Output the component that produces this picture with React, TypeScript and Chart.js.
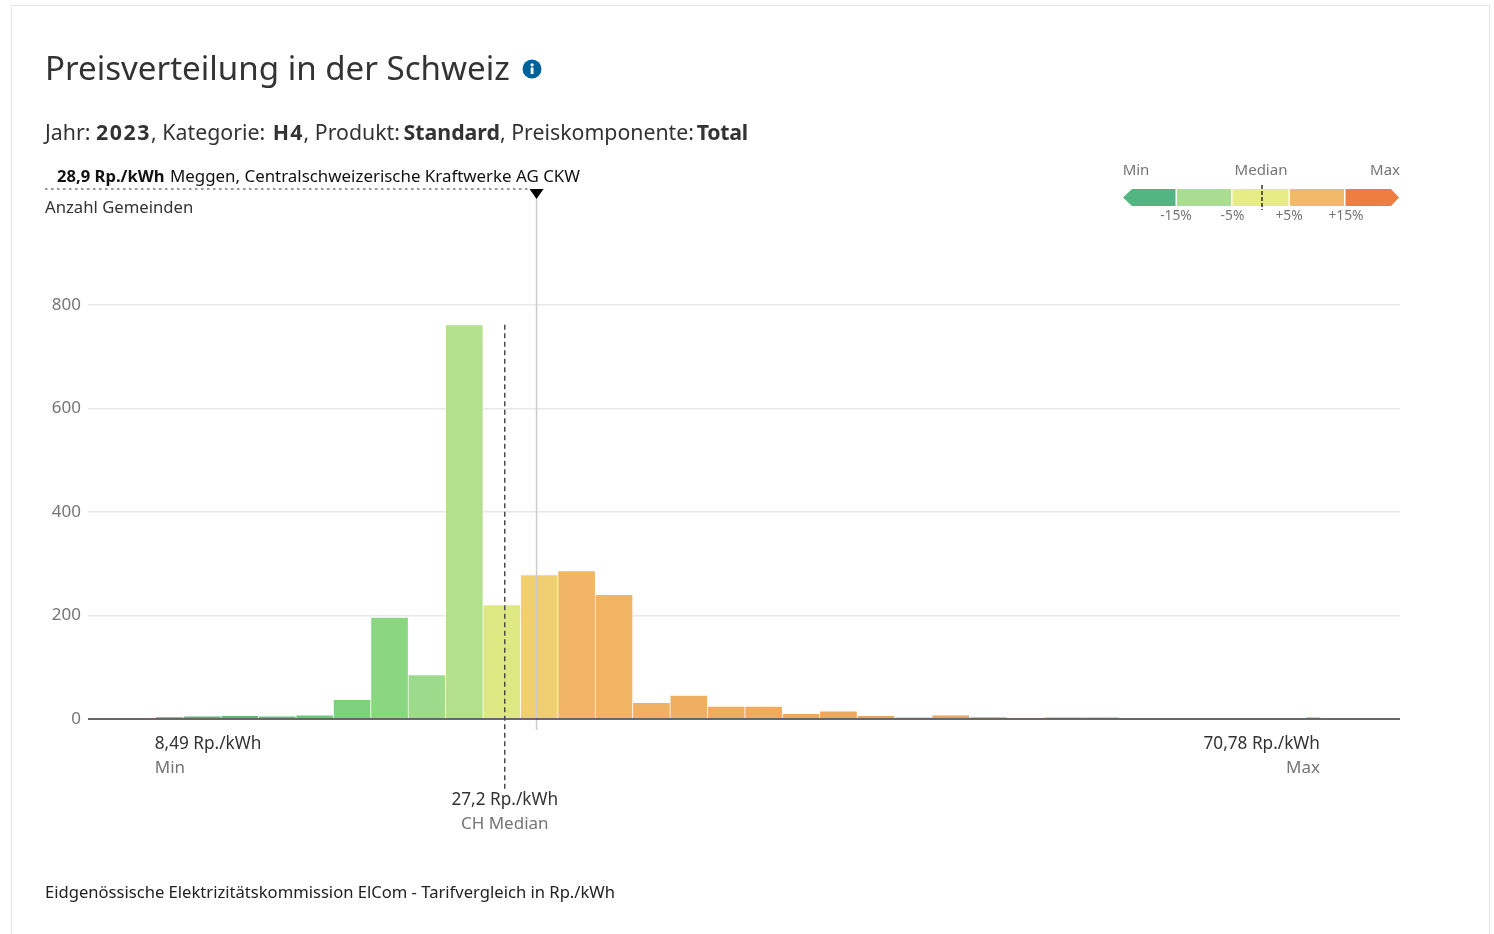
import React, { useEffect, useRef } from "react";
import { Chart, registerables } from "chart.js";

Chart.register(...registerables);

const FONT = '"Noto Sans", "Open Sans", sans-serif';

const binStarts = [8.53, 10.04, 12.04, 14.04, 16.04, 18.04, 20.04, 22.04, 24.04, 26.04, 28.04, 30.04, 32.04, 34.04, 36.04, 38.04, 40.04, 42.04, 44.04, 46.04, 48.04, 50.04, 52.04, 54.04, 56.04, 58.04, 70.04];
const binEnds = [10.04, 12.04, 14.04, 16.04, 18.04, 20.04, 22.04, 24.04, 26.04, 28.04, 30.04, 32.04, 34.04, 36.04, 38.04, 40.04, 42.04, 44.04, 46.04, 48.04, 50.04, 52.04, 54.04, 56.04, 58.04, 60.04, 70.82];
const counts = [4, 6, 7, 6, 8, 38, 197, 86, 762, 221, 279, 287, 241, 32, 46, 25, 25, 11, 16, 7, 3, 8, 4, 2, 3, 3, 3];
const barColors = [
  "#4fb07c", "#58b67b", "#5dba7b", "#64bf7b", "#6ec67b", "#7dd07c", "#8bd680", "#9eda8c", "#b3e08c",
  "#dfe984", "#efcf70", "#f1b565", "#f1b462", "#f1b162", "#f0af60", "#f0ad5e", "#f0ab5d", "#efa95c",
  "#efa75b", "#eea55a", "#eea359", "#eea158", "#ed9f57", "#ed9d56", "#ec9b55", "#ec9955", "#e88a4a",
];
const yTicks = [0, 200, 400, 600, 800];

const minPrice = 8.49;
const maxPrice = 70.78;
const medianPrice = 27.2;
const selectedPrice = 28.9;
const xMin = 4.92;
const xMax = 75.06;

const chartW = 1494;
const chartH = 934;
const plot = { left: 88, right: 1400, top: 305, bottom: 719 };

const legendSegments = [
  { color: "#53b682", points: "1123,197.5 1132,189 1175.5,189 1175.5,206 1132,206" },
  { color: "#a9de92", points: "1177,189 1231,189 1231,206 1177,206" },
  { color: "#e7ec84", points: "1232.5,189 1288.5,189 1288.5,206 1232.5,206" },
  { color: "#f2b968", points: "1290,189 1344,189 1344,206 1290,206" },
  { color: "#ed7e40", points: "1345.5,189 1391,189 1399,197.5 1391,206 1345.5,206" },
];
const legendTop = [
  { text: "Min", x: 1136, anchor: "middle" },
  { text: "Median", x: 1261, anchor: "middle" },
  { text: "Max", x: 1400, anchor: "end" },
];
const legendBottom = [
  { text: "-15%", x: 1176 },
  { text: "-5%", x: 1232.5 },
  { text: "+5%", x: 1289 },
  { text: "+15%", x: 1346 },
];

const annotationPlugin = {
  id: "annotations",
  afterDatasetsDraw(chart: any) {
    const { ctx, scales } = chart;
    const x = scales.x;
    const y = scales.y;
    const zero = y.getPixelForValue(0);
    const xSel = x.getPixelForValue(selectedPrice);
    const xMed = x.getPixelForValue(medianPrice);
    const xLo = x.getPixelForValue(minPrice);
    const xHi = x.getPixelForValue(maxPrice);
    ctx.save();

    ctx.strokeStyle = "#cccccc";
    ctx.lineWidth = 1.5;
    ctx.beginPath();
    ctx.moveTo(xSel, 190);
    ctx.lineTo(xSel, 730);
    ctx.stroke();

    ctx.strokeStyle = "#3c3c3c";
    ctx.lineWidth = 1.5;
    ctx.beginPath();
    ctx.moveTo(plot.left, zero);
    ctx.lineTo(plot.right, zero);
    ctx.stroke();

    ctx.strokeStyle = "#4a4a4a";
    ctx.lineWidth = 1.5;
    ctx.setLineDash([5, 3.5]);
    ctx.beginPath();
    ctx.moveTo(xMed, y.getPixelForValue(Math.max(...counts)));
    ctx.lineTo(xMed, 790);
    ctx.stroke();

    ctx.strokeStyle = "#333333";
    ctx.lineWidth = 1;
    ctx.setLineDash([2.5, 3.5]);
    ctx.beginPath();
    ctx.moveTo(45, 189);
    ctx.lineTo(xSel - 6, 189);
    ctx.stroke();
    ctx.setLineDash([]);

    ctx.fillStyle = "#000000";
    ctx.beginPath();
    ctx.moveTo(xSel - 7, 189);
    ctx.lineTo(xSel + 7, 189);
    ctx.lineTo(xSel, 199);
    ctx.closePath();
    ctx.fill();

    const label = (main: string, sub: string, px: number, align: CanvasTextAlign, top: number) => {
      ctx.textAlign = align;
      ctx.textBaseline = "alphabetic";
      ctx.font = `17.2px ${FONT}`;
      ctx.fillStyle = "#333333";
      ctx.fillText(main, px, top);
      ctx.font = `17px ${FONT}`;
      ctx.fillStyle = "#757575";
      ctx.fillText(sub, px, top + 24);
    };
    label("8,49 Rp./kWh", "Min", xLo, "left", 749);
    label("70,78 Rp./kWh", "Max", xHi, "right", 749);
    label("27,2 Rp./kWh", "CH Median", xMed, "center", 805);

    ctx.restore();
  },
};

export default function App() {
  const ref = useRef<HTMLCanvasElement>(null);

  useEffect(() => {
    const pxPerUnit = (plot.right - plot.left) / (xMax - xMin);
    const rows = counts.map((c, i) => ({
      x: (binStarts[i] + binEnds[i]) / 2,
      y: c,
      w: (binEnds[i] - binStarts[i]) * pxPerUnit,
      color: barColors[i],
    }));
    const widths = [...new Set(rows.map((r) => r.w.toFixed(3)))];
    const datasets = widths.map((w) => {
      const sub = rows.filter((r) => r.w.toFixed(3) === w);
      return {
        data: sub.map((r) => ({ x: r.x, y: r.y })),
        backgroundColor: sub.map((r) => r.color),
        borderColor: "rgba(255,255,255,0.7)",
        borderWidth: { left: 0.7, right: 0.7, top: 1, bottom: 0 },
        barThickness: parseFloat(w),
        grouped: false,
      };
    });

    const chart = new Chart(ref.current as HTMLCanvasElement, {
      type: "bar",
      data: { datasets } as any,
      options: {
        animation: false,
        responsive: false,
        devicePixelRatio: 1,
        layout: {
          padding: { left: 0, right: chartW - plot.right, top: plot.top, bottom: chartH - plot.bottom },
        },
        plugins: { legend: { display: false }, tooltip: { enabled: false } },
        scales: {
          x: { type: "linear", offset: false, min: xMin, max: xMax, display: false, grid: { display: false } },
          y: {
            min: 0,
            max: 800,
            afterFit: (s: any) => {
              s.width = plot.left;
            },
            afterBuildTicks: (s: any) => {
              s.ticks = yTicks.map((value) => ({ value }));
            },
            border: { display: false },
            grid: { color: "#e8e8e8", lineWidth: 1.5, drawTicks: false },
            ticks: {
              padding: 7,
              color: "#757575",
              font: { family: FONT, size: 17 },
            },
          },
        },
      } as any,
      plugins: [annotationPlugin],
    });
    return () => chart.destroy();
  }, []);

  const abs = (left: number, top: number, extra: React.CSSProperties = {}): React.CSSProperties => ({
    position: "absolute",
    left,
    top,
    whiteSpace: "nowrap",
    fontFamily: FONT,
    color: "#333333",
    ...extra,
  });

  return (
    <div style={{ position: "absolute", left: 0, top: 0, width: chartW, height: chartH, overflow: "hidden", background: "#fff" }}>
      <div style={{ position: "absolute", left: 10.5, top: 4.5, width: 1479, height: 960, border: "1.5px solid #e6e6e6", boxSizing: "border-box" }} />
      <canvas ref={ref} width={chartW} height={chartH} style={{ position: "absolute", left: 0, top: 0, width: chartW, height: chartH }} />
      <div style={abs(45, 46, { fontSize: 33.1, lineHeight: "44px" })}>Preisverteilung in der Schweiz</div>
      <svg style={{ position: "absolute", left: 522, top: 59 }} width={20} height={20}>
        <circle cx={10} cy={10} r={9.5} fill="#00629b" />
        <rect x={8.7} y={8.5} width={2.8} height={6.5} fill="#fff" />
        <circle cx={10.1} cy={5.8} r={1.6} fill="#fff" />
      </svg>
      <div style={abs(45, 117, { fontSize: 21.3, lineHeight: "30px" })}>
        Jahr: <b style={{ letterSpacing: 1.6 }}>2023</b>, Kategorie: <b style={{ letterSpacing: 1.2, marginLeft: 2 }}>H4</b>, Produkt:{" "}
        <b style={{ marginLeft: -2 }}>Standard</b>, Preiskomponente: <b style={{ letterSpacing: -0.3, marginLeft: -2.8 }}>Total</b>
      </div>
      <div style={abs(57, 165, { fontSize: 16.9, lineHeight: "22px", color: "#111" })}>
        <b style={{ fontSize: 16.6, marginRight: 1 }}>28,9 Rp./kWh</b> Meggen, Centralschweizerische Kraftwerke AG CKW
      </div>
      <div style={abs(45, 196, { fontSize: 16.7, lineHeight: "22px" })}>Anzahl Gemeinden</div>
      <div style={abs(45, 881, { fontSize: 16.6, lineHeight: "22px", color: "#222" })}>
        Eidgenössische Elektrizitätskommission ElCom - Tarifvergleich in Rp./kWh
      </div>
      <svg style={{ position: "absolute", left: 0, top: 0 }} width={chartW} height={chartH}>
        {legendSegments.map((s) => (
          <polygon key={s.color} points={s.points} fill={s.color} />
        ))}
        <line x1={1262} x2={1262} y1={185} y2={210} stroke="#111" strokeWidth={1.3} strokeDasharray="4 2" />
        {legendTop.map((t) => (
          <text key={t.text} x={t.x} y={175} textAnchor={t.anchor as any} fontFamily={FONT} fontSize={15} fill="#757575">
            {t.text}
          </text>
        ))}
        {legendBottom.map((t) => (
          <text key={t.text} x={t.x} y={220} textAnchor="middle" fontFamily={FONT} fontSize={13.8} fill="#757575">
            {t.text}
          </text>
        ))}
      </svg>
    </div>
  );
}
